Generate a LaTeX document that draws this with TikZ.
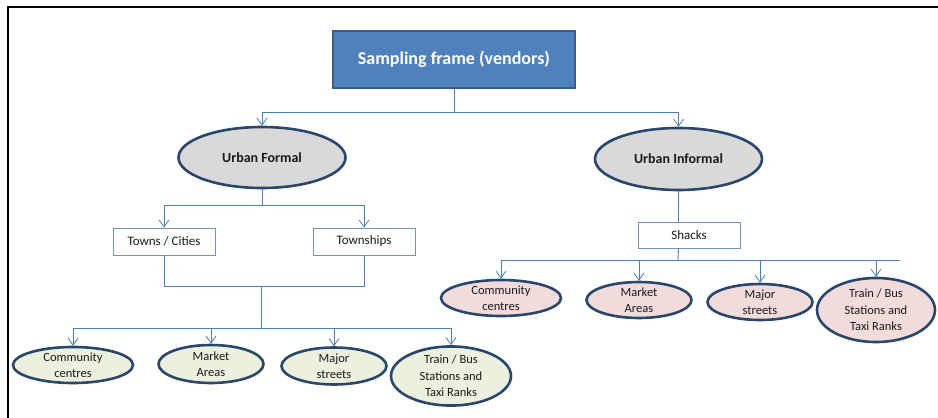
\documentclass[tikz,border=0pt]{standalone}
\usepackage{fontspec}
\setmainfont{Carlito}
\usetikzlibrary{shapes.geometric,arrows.meta}
\definecolor{topfill}{HTML}{4F81BD}
\definecolor{topdraw}{HTML}{385D8A}
\definecolor{ellborder}{HTML}{2A466B}
\definecolor{grayfill}{HTML}{D9D9D9}
\definecolor{greenfill}{HTML}{EBF1DE}
\definecolor{pinkfill}{HTML}{F2DCDB}
\definecolor{lnc}{HTML}{4A7EBB}
\definecolor{boxdraw}{HTML}{6F92BF}
\definecolor{txt}{HTML}{1A1A1A}
\tikzset{
  ln/.style={draw=lnc, line width=0.9pt},
  arr/.style={ln, -{Straight Barb[length=7pt,width=10pt,line width=0.8pt]}},
  topbox/.style={rectangle, fill=topfill, draw=topdraw, line width=1.5pt, text=white,
     font=\fontsize{18}{21}\selectfont\bfseries, minimum width=242pt, minimum height=57pt, inner sep=0pt},
  mainell/.style={ellipse, fill=grayfill, draw=ellborder, line width=2.6pt, text=txt,
     font=\fontsize{14}{17}\selectfont\bfseries, inner sep=0pt},
  subbox/.style={rectangle, fill=white, draw=boxdraw, line width=0.9pt, text=txt,
     font=\fontsize{13}{16}\selectfont, minimum width=102pt, minimum height=27pt, inner sep=0pt},
  leaf/.style={ellipse, draw=ellborder, line width=2.6pt, text=txt, align=center,
     font=\fontsize{12.5}{16.5}\selectfont, inner sep=0pt},
  gleaf/.style={leaf, fill=greenfill},
  pleaf/.style={leaf, fill=pinkfill},
}
\begin{document}
\begin{tikzpicture}[x=1pt,y=-1pt]
\useasboundingbox (0,0) rectangle (938,418);
% frame
\draw[black, line width=2pt] (7.5,418) -- (7.5,7) -- (938,7);

\node[topbox] (top) at (454,59.5) {Sampling frame (vendors)};
\node[mainell, minimum width=167pt, minimum height=61pt] (uf) at (262,157.5) {Urban Formal};
\node[mainell, minimum width=167pt, minimum height=62pt] (ui) at (678.5,159) {Urban Informal};

\node[subbox] (tc) at (164,241.5) {Towns / Cities};
\node[subbox] (tw) at (364,241.5) {Townships};
\node[subbox, minimum height=26pt] (sh) at (689,235) {Shacks};

\node[gleaf, minimum width=120pt, minimum height=36pt] (lc) at (73,365) {Community\\centres};
\node[gleaf, minimum width=105pt, minimum height=38pt] (lm) at (211,364) {Market\\Areas};
\node[gleaf, minimum width=105pt, minimum height=37pt] (ls) at (334,366) {Major\\streets};
\node[gleaf, minimum width=120pt, minimum height=58pt] (lt) at (451,376) {Train / Bus\\Stations and\\Taxi Ranks};

\node[pleaf, minimum width=120pt, minimum height=36pt] (rc) at (501,298) {Community\\centres};
\node[pleaf, minimum width=105pt, minimum height=36pt] (rm) at (639,300) {Market\\Areas};
\node[pleaf, minimum width=105pt, minimum height=36pt] (rs) at (760,302) {Major\\streets};
\node[pleaf, minimum width=118pt, minimum height=64pt] (rt) at (876,310) {Train / Bus\\Stations and\\Taxi Ranks};

% junction coordinates
\coordinate (j0) at (457,112);
\coordinate (j1) at (262,205);
\coordinate (j2) at (261,286);
\coordinate (j3) at (261,328);
\coordinate (j4) at (678,260);
\coordinate (j5) at (900,260);

% top level
\draw[ln] (top.south) -- (top.south |- j0);
\draw[arr] (top.south |- j0) -| (uf.north);
\draw[arr] (top.south |- j0) -| (ui.north);

% urban formal
\draw[ln] (uf.south) -- (j1);
\draw[arr] (j1) -| (tc.north);
\draw[arr] (j1) -| (tw.north);
\draw[ln] (tc.south) |- (j2);
\draw[ln] (tw.south) |- (j2);
\draw[ln] (j2) -- (j3);
\draw[arr] (j3) -| (lc.north);
\draw[arr] (j3) -| (lm.north);
\draw[arr] (j3) -| (ls.north);
\draw[arr] (j3) -| (lt.north);

% urban informal
\draw[ln] (ui.south) -- (ui.south |- sh.north);
\draw[ln] (ui.south |- sh.south) -- (j4);
\draw[ln] (rc.north |- j4) -- (j5);
\draw[arr] (rc.north |- j4) -- (rc.north);
\draw[arr] (rm.north |- j4) -- (rm.north);
\draw[arr] (rs.north |- j4) -- (rs.north);
\draw[arr] (rt.north |- j4) -- (rt.north);
\end{tikzpicture}
\end{document}
